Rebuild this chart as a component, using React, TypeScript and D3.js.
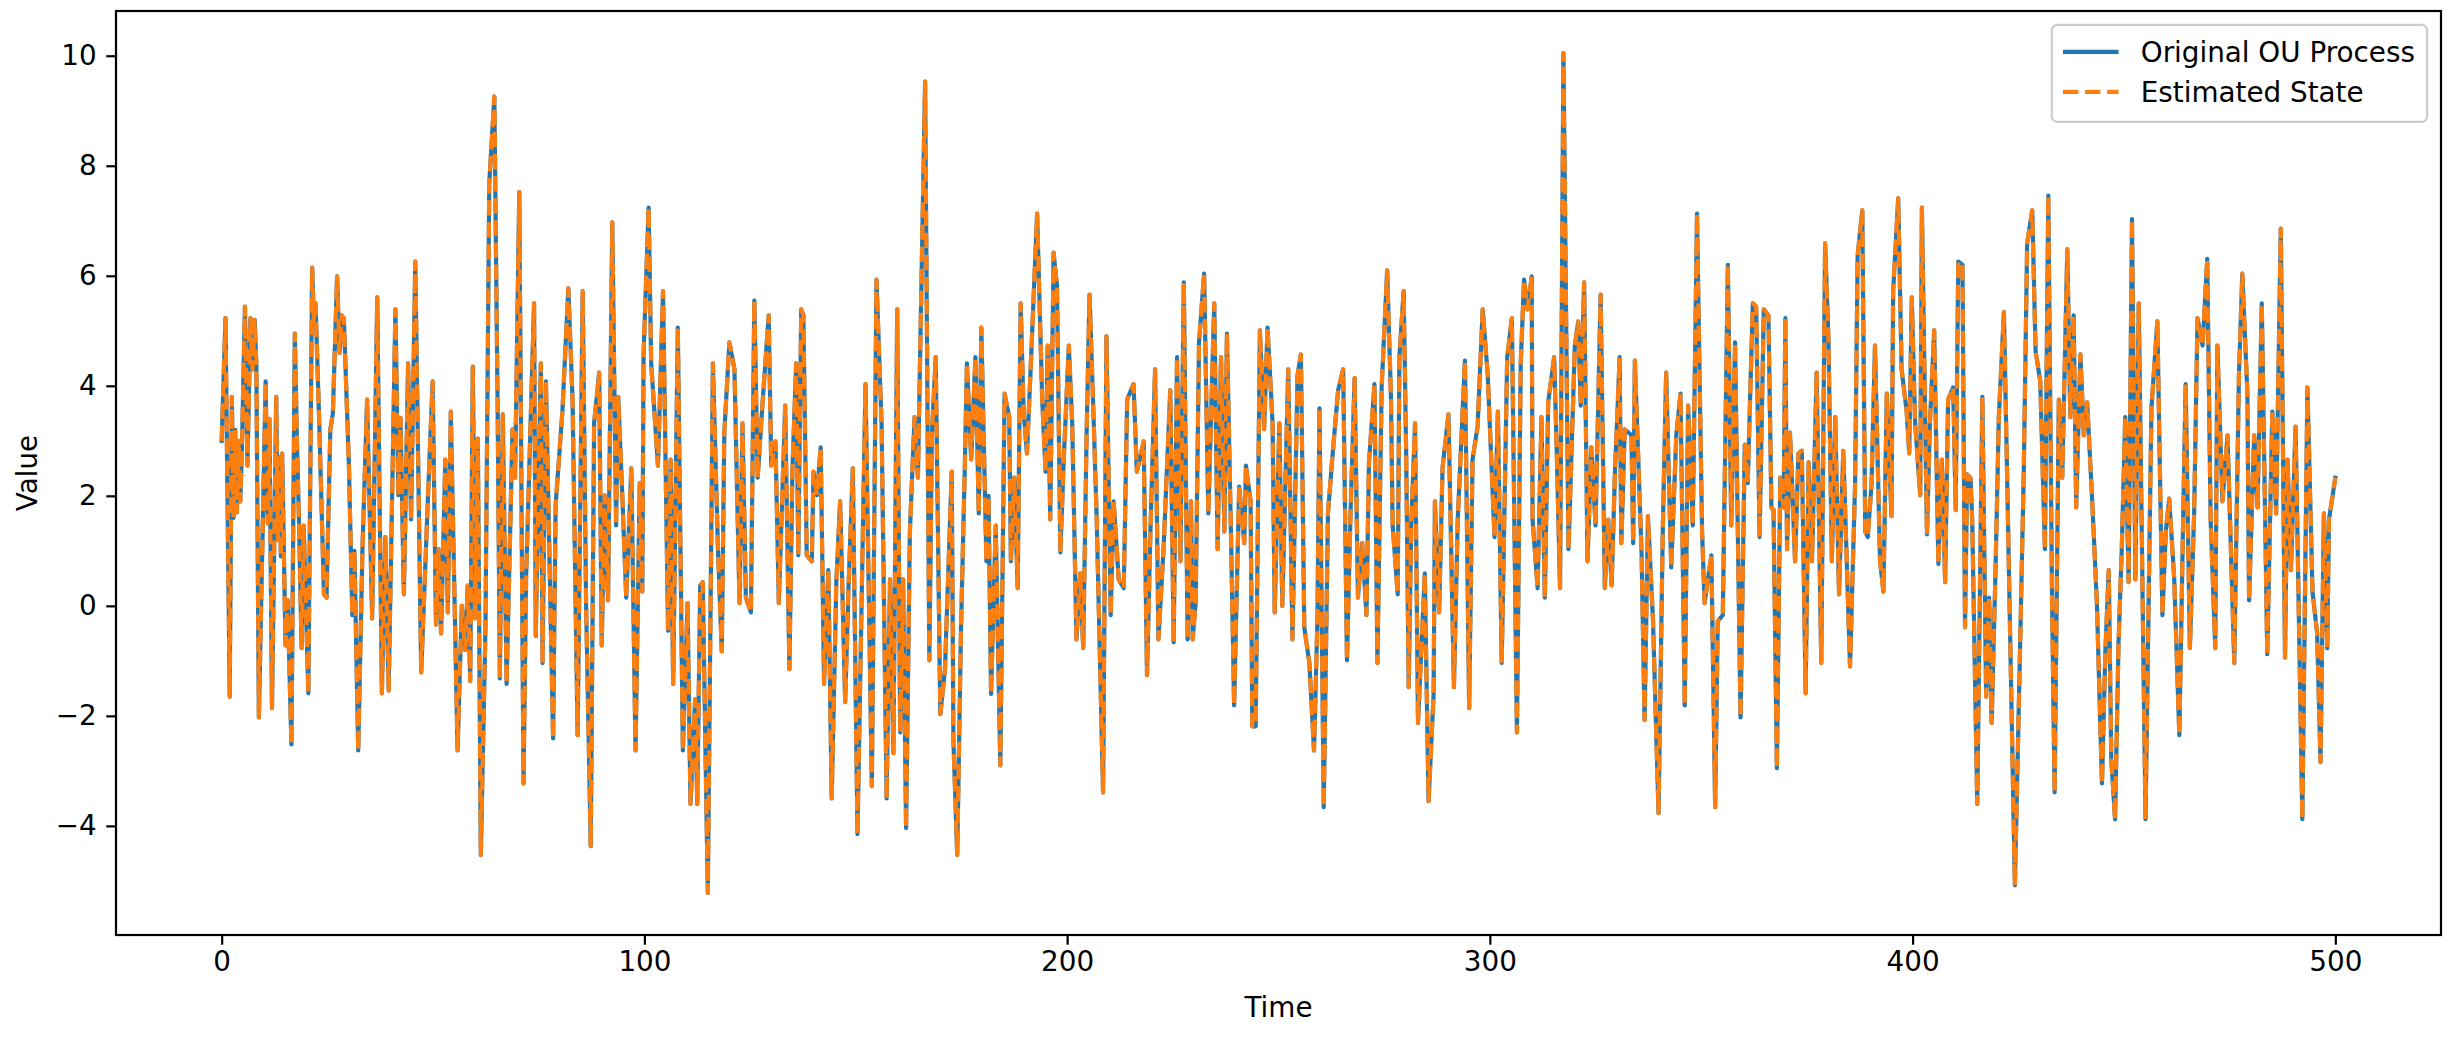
import React, { useEffect, useRef } from "react";
import * as d3 from "d3";

// [time, value] samples of the OU path
const ouPoints: [number, number][] = [
  [0, 3.0], [0.9, 5.23], [1.9, -1.65], [2.4, 3.8], [2.8, 1.6], [3.2, 3.2], [3.6, 1.7], [4.0, 3.0], [4.4, 1.9], [4.8, 2.9],
  [5.5, 5.44], [6.1, 2.55], [6.8, 5.23], [7.3, 4.3], [7.8, 5.2], [8.2, 4.4], [8.8, -2.03], [10.4, 4.08], [10.9, 1.5], [11.3, 3.4],
  [11.9, -1.86], [12.9, 3.8], [13.3, 1.2], [13.7, 2.7], [14.0, 0.9], [14.3, 2.77], [15.1, -0.72], [15.6, 0.1], [16.5, -2.52], [17.3, 4.95],
  [17.8, 3.0], [18.3, 1.5], [18.9, -0.77], [19.4, 1.46], [20.5, -1.59], [21.4, 6.15], [21.8, 5.2], [22.2, 5.5], [23.0, 3.53], [24.2, 0.21],
  [24.8, 0.15], [25.7, 3.2], [26.3, 3.5], [27.3, 5.99], [27.9, 4.6], [28.4, 5.28], [28.9, 5.23], [30.1, 2.55], [30.9, -0.17], [31.4, 1.0],
  [32.3, -2.63], [33.3, 1.03], [34.4, 3.75], [35.6, -0.23], [36.8, 5.61], [37.9, -1.59], [38.7, 1.25], [39.5, -1.54], [41.1, 5.39], [41.8, 2.01],
  [42.3, 3.42], [43.1, 0.21], [44.1, 4.41],
  [44.8, 1.57], [45.8, 6.26], [47.2, -1.21], [48.7, 1.79], [49.9, 4.08], [50.7, -0.34], [51.3, 1.03], [51.9, -0.5], [52.9, 2.66], [53.5, -0.12],
  [54.2, 3.53], [55.8, -2.63], [56.8, 0.0], [57.6, -0.8], [58.2, 0.37], [58.8, -1.37], [59.4, 4.35], [60.0, -0.23], [60.6, 3.04], [61.3, -4.53],
  [62.4, -0.39], [63.3, 7.68], [64.5, 9.26], [65.3, 3.43], [65.8, -1.32], [66.5, 3.48], [67.4, -1.42], [68.8, 3.21], [69.4, 2.33], [70.4, 7.52],
  [71.4, -3.23], [72.0, 0.48], [73.9, 5.5], [74.3, -0.55], [75.5, 4.41], [75.9, -1.04], [76.7, 4.08], [78.4, -2.41], [79.0, 1.84], [80.6, 3.53],
  [82.0, 5.77], [83.0, 3.75], [84.2, -2.35], [85.4, 5.72], [86.2, 0.05], [87.3, -4.37], [88.1, 3.32], [89.3, 4.24], [89.9, -0.72],
  [90.6, 2.01], [91.4, 0.1], [92.4, 6.97], [93.3, 1.46], [93.8, 3.8], [94.6, 2.33], [95.7, 0.15], [96.9, 2.5], [97.9, -2.63], [98.9, 2.23],
  [99.5, 0.26], [99.8, 4.57], [101.0, 7.24], [101.6, 4.41], [103.2, 2.55], [104.4, 5.72], [105.6, -0.45], [106.2, 2.66], [106.8, -1.42], [107.9, 5.06],
  [109.1, -2.63], [110.2, 0.05], [110.9, -3.6], [112.0, -1.7], [112.5, -3.6], [113.2, 0.37], [113.8, 0.43], [115.0, -5.22], [116.2, 4.41], [117.4, 1.03],
  [118.3, -0.83], [118.9, 3.15], [120.1, 4.79], [121.3, 4.3], [122.5, 0.05], [123.2, 3.32], [124.0, 0.15], [125.2, -0.12], [126.0, 5.55], [126.8, 2.33],
  [128.0, 3.75], [129.4, 5.28], [130.0, 2.55], [131.0, 2.99], [131.8, 0.05], [133.3, 3.64], [134.3, -1.15], [135.0, 2.44], [135.9, 4.41],
  [136.4, 0.92], [137.1, 5.39], [137.6, 5.28], [138.4, 0.92], [139.6, 0.81], [140.0, 2.44], [140.8, 2.01], [141.7, 2.88], [142.5, -1.42], [143.5, 0.65],
  [144.3, -3.5], [145.4, 0.43], [146.3, 1.9], [147.5, -1.75], [148.3, 0.37], [149.3, 2.5], [150.4, -4.15], [151.4, 0.15], [152.3, 4.03], [153.8, -3.28],
  [154.9, 5.93], [156.1, 3.32], [157.3, -3.5], [158.1, 0.48], [158.9, -2.68], [159.8, 5.39], [160.5, -2.3], [161.2, 0.48], [161.9, -4.04], [162.8, 1.35],
  [163.9, 3.43], [164.7, 2.33], [166.4, 9.53], [167.4, -0.99], [168.0, 3.1], [168.9, 4.52], [170.0, -1.97], [171.1, -1.15], [172.7, 2.44], [173.1, -2.46],
  [174.0, -4.53], [174.9, -0.39], [175.8, 2.55], [176.3, 4.41], [177.3, 2.66], [178.3, 4.52], [179.1, 1.68], [179.7, 5.06], [180.9, 0.81], [181.4, 2.0],
  [182.0, -1.6],
  [183.1, 1.46], [184.2, -2.9], [185.2, 3.86], [186.3, 3.43], [186.7, 0.81], [187.5, 2.33], [188.3, 0.32], [189.0, 5.5], [189.7, 3.53], [190.5, 2.77],
  [191.3, 4.19], [192.9, 7.13], [194.1, 3.75], [194.9, 2.44], [195.4, 4.73], [196.0, 1.57], [196.8, 6.42], [197.6, 5.82], [198.4, 0.97], [199.2, 2.66],
  [200.4, 4.73], [201.2, 3.32], [202.2, -0.61], [203.1, 0.59], [203.8, -0.77], [204.6, 3.1], [205.3, 5.66], [206.3, 3.32], [207.0, 1.57], [208.5, -3.39],
  [209.3, 4.9], [210.3, -0.17], [211.0, 1.9], [212.2, 0.48], [213.4, 0.32], [214.2, 3.75], [215.7, 4.03], [216.5, 2.44], [218.1, 2.99], [218.9, -1.26],
  [219.7, 1.35], [220.8, 4.3], [221.6, -0.61], [222.8, 1.03], [224.4, 3.92], [225.2, -0.66], [226.0, 4.52], [226.8, 0.81], [227.6, 5.88],
  [228.5, -0.61], [229.3, 1.9], [229.7, -0.61], [230.4, 0.05], [231.2, 4.79], [232.4, 6.04], [233.4, 1.68], [234.8, 5.5], [235.6, 1.03], [236.4, 4.52],
  [237.2, 1.35], [237.8, 4.95], [238.8, 1.14], [239.5, -1.81], [240.7, 2.17], [241.9, 1.14], [242.3, 2.55], [243.4, 1.9], [243.8, -2.19], [244.6, -2.19],
  [245.6, 5.01], [246.6, 3.21], [247.4, 5.06], [248.6, 3.32], [249.1, -0.12], [250.2, 3.32], [250.9, 0.0], [252.3, 4.3], [253.3, -0.61], [254.5, 4.19],
  [255.3, 4.57], [256.1, -0.39], [257.3, -1.04], [258.4, -2.63], [259.2, -0.28], [259.7, 3.59], [260.7, -3.66], [261.7, 1.68], [262.7, 2.66], [264.1, 3.92],
  [265.3, 4.3], [266.2, -0.99], [267.0, 1.57], [268.0, 4.14], [268.8, 0.15], [269.8, 1.14], [270.8, -0.17], [271.4, 2.61], [272.7, 4.03], [273.4, -1.04],
  [274.4, 3.97], [275.7, 6.1], [276.6, 3.8], [277.0, 1.46], [278.2, 0.21], [278.6, 4.52], [279.6, 5.72], [280.2, 2.77], [280.8, -1.48], [281.4, 1.46],
  [282.3, 3.32], [283.0, -2.13], [284.6, 0.59], [285.5, -3.55], [286.7, -1.59], [287.0, 1.9], [288.0, -0.12], [288.8, 2.5], [290.2, 3.48], [291.5, -1.48],
  [292.4, 1.57], [294.1, 4.46], [295.1, -1.86], [295.9, 2.66], [297.1, 3.26], [298.3, 5.39], [299.5, 4.19], [301.1, 1.25], [301.9, 3.53], [302.8, -1.04],
  [304.1, 4.52], [305.2, 5.23], [306.4, -2.3], [307.3, 4.41], [308.1, 5.93], [308.9, 5.39], [309.9, 5.99], [310.1, 1.57], [311.3, 0.32], [312.2, 3.43],
  [313.0, 0.15], [313.8, 3.7], [315.2, 4.52], [315.8, 2.88], [316.6, 0.32], [317.4, 10.05], [318.6, 1.03],
  [320.1, 4.73], [320.9, 5.17], [321.5, 3.64], [322.3, 5.88], [323.1, 0.81], [324.0, 2.88], [325.0, 1.46], [326.2, 5.66], [327.2, 0.32], [328.0, 1.57],
  [328.8, 0.37], [329.6, 2.44], [330.7, 4.52], [331.1, 1.14], [331.9, 3.21], [333.5, 3.1], [333.9, 1.14], [334.3, 4.46], [335.9, 0.92], [336.6, -2.08],
  [337.4, 1.63], [338.6, -0.28], [339.9, -3.77], [340.9, 1.35], [341.7, 4.24], [342.9, 0.7], [344.1, 3.1], [345.1, 3.86], [346.1, -1.81], [346.9, 3.64],
  [348.0, 1.46], [349.0, 7.13], [350.2, 1.35], [350.8, 0.05], [352.4, 0.92], [353.3, -3.66], [353.9, -0.28], [355.1, -0.17], [356.3, 6.2], [357.1, 1.46],
  [358.0, 4.79], [359.3, -2.03], [360.3, 2.93], [361.0, 2.23], [362.2, 5.5], [363.0, 5.44], [363.8, 1.25], [364.8, 5.39],
  [365.9, 5.28], [366.6, 1.79], [367.1, 1.74], [367.9, -2.95], [368.7, 2.33], [369.5, 1.79], [369.9, 5.23], [370.3, 1.03], [371.0, 3.15], [372.2, 0.81],
  [373.0, 2.77], [373.8, 2.82], [374.7, -1.59], [375.4, 2.61], [376.2, 0.81], [377.3, 4.24], [378.4, -1.04], [379.3, 6.59], [380.1, 4.84], [380.9, 0.81],
  [381.7, 3.43], [382.6, 0.21], [383.6, 2.82], [385.2, -1.1], [386.4, 2.23], [387.0, 6.37], [388.1, 7.19], [388.8, 1.35], [389.4, 1.25], [390.3, 2.23],
  [391.1, 4.73], [392.3, 0.81], [393.1, 0.26], [393.9, 3.86], [395.0, 1.63], [395.4, 5.72], [396.6, 7.41], [397.4, 4.3], [398.6, 3.53], [399.2, 2.77],
  [399.8, 5.61], [400.6, 3.32], [401.8, 2.01], [402.2, 7.24], [403.4, 1.3], [404.1, 3.32], [405.1, 5.01], [406.1, 0.76], [406.9, 2.66], [407.7, 0.43],
  [408.4, 3.75], [409.6, 3.97], [410.2, 1.74], [410.8, 6.26],
  [411.8, 6.2], [412.4, -0.39], [412.9, 2.39], [413.7, 2.33], [414.1, 1.57], [415.3, -3.6], [416.5, 3.8], [417.4, -1.65], [418.1, 0.15], [418.7, -2.13],
  [419.6, 0.59], [420.4, 3.43], [421.6, 5.34], [422.4, 2.23], [423.2, -1.04], [424.2, -5.08], [425.5, -0.5], [426.3, 2.44], [427.1, 6.59], [428.3, 7.19],
  [429.1, 4.63], [430.2, 4.08], [431.3, 1.03], [432.1, 7.46], [433.0, 0.05], [433.6, -3.39], [434.6, 3.75], [435.4, 2.33], [436.6, 6.48], [437.3, 3.43],
  [438.1, 5.28], [438.7, 1.79], [439.7, 4.57], [440.5, 3.1], [441.3, 3.7], [442.5, 1.9], [443.6, 0.05], [444.8, -3.23], [445.6, -0.83], [446.4, 0.65],
  [447.0, -2.79], [447.9, -3.88], [448.7, -0.72], [449.5, 1.08], [450.3, 3.43], [451.1, 0.43], [451.9, 7.03], [452.7, 0.48], [453.5, 5.5], [455.1, -3.88],
  [456.5, 3.59],
  [457.9, 5.17], [459.1, -0.17], [459.9, 1.35], [460.7, 1.95], [461.9, 0.48], [463.1, -2.35], [463.9, 1.14], [464.6, 4.03], [465.6, -0.77], [466.6, 1.68],
  [467.4, 5.23], [468.6, 4.73], [469.7, 6.31], [470.5, 1.57], [471.6, -0.77], [472.1, 4.73], [473.3, 1.9], [474.5, 3.1], [476.1, -1.04], [477.2, 4.19],
  [478.0, 6.04], [479.2, 3.86], [479.6, 0.1], [480.8, 3.1], [481.6, 1.79], [482.6, 5.5], [483.9, -0.88], [485.1, 3.53], [486.0, 1.68], [487.1, 6.86],
  [488.1, -0.94], [488.7, 2.66], [489.5, 0.65], [490.6, 3.26], [492.2, -3.88], [493.4, 3.97], [494.6, 0.26], [495.7, -0.5], [496.5, -2.84], [497.3, 1.68],
  [498.1, -0.77], [498.5, 1.57], [500, 2.33],
];

// the estimate sits exactly on top of the original in the picture
const estimatedPoints: [number, number][] = ouPoints;

const xTicks = [0, 100, 200, 300, 400, 500];
const yTicks = [-4, -2, 0, 2, 4, 6, 8, 10];
const seriesNames = ["Original OU Process", "Estimated State"];
const seriesColors = ["#1f77b4", "#ff7f0e"];

const W = 2456;
const H = 1038;
const margin = { top: 11, right: 15, bottom: 103, left: 116 };
const FONT = "DejaVu Sans, Verdana, sans-serif";
const fs = 27.8; // 10pt at 200 dpi

export default function App() {
  const ref = useRef<SVGSVGElement>(null);

  useEffect(() => {
    const svg = d3.select(ref.current);
    svg.selectAll("*").remove();

    const width = W - margin.left - margin.right;
    const height = H - margin.top - margin.bottom;

    const tExt = d3.extent(ouPoints, d => d[0]) as [number, number];
    const vExt = d3.extent(ouPoints, d => d[1]) as [number, number];
    const tPad = (tExt[1] - tExt[0]) * 0.05;
    const vPad = (vExt[1] - vExt[0]) * 0.05;

    const xScale = d3.scaleLinear()
      .domain([tExt[0] - tPad, tExt[1] + tPad])
      .range([0, width]);
    const yScale = d3.scaleLinear()
      .domain([vExt[0] - vPad, vExt[1] + vPad])
      .range([height, 0]);

    const g = svg.append("g").attr("transform", `translate(${margin.left},${margin.top})`);

    g.append("clipPath").attr("id", "plotClip")
      .append("rect").attr("width", width).attr("height", height);

    const line = d3.line<[number, number]>()
      .x(d => xScale(d[0]))
      .y(d => yScale(d[1]));

    const plot = g.append("g").attr("clip-path", "url(#plotClip)");

    plot.append("path")
      .datum(ouPoints)
      .attr("d", line)
      .attr("fill", "none")
      .attr("stroke", seriesColors[0])
      .attr("stroke-width", 4.17)
      .attr("stroke-linejoin", "round")
      .attr("stroke-linecap", "square");

    plot.append("path")
      .datum(estimatedPoints)
      .attr("d", line)
      .attr("fill", "none")
      .attr("stroke", seriesColors[1])
      .attr("stroke-width", 4.17)
      .attr("stroke-linejoin", "round")
      .attr("stroke-dasharray", "15.4,6.7");

    // axes
    const xAxis = d3.axisBottom(xScale).tickValues(xTicks).tickSize(9.7).tickPadding(7).tickSizeOuter(0);
    const yAxis = d3.axisLeft(yScale).tickValues(yTicks).tickSize(9.7).tickPadding(9.7).tickSizeOuter(0);

    const gx = g.append("g").attr("transform", `translate(0,${height})`).call(xAxis);
    const gy = g.append("g").call(yAxis);

    [gx, gy].forEach(ax => {
      ax.select(".domain").remove();
      ax.attr("font-size", fs).attr("font-family", FONT);
      ax.selectAll(".tick line").attr("stroke", "#000").attr("stroke-width", 2.2);
      ax.selectAll(".tick text").attr("fill", "#000");
    });

    // frame
    g.append("rect")
      .attr("width", width).attr("height", height)
      .attr("fill", "none").attr("stroke", "#000").attr("stroke-width", 2.2);

    // axis labels
    g.append("text")
      .attr("x", width / 2).attr("y", height + 82)
      .attr("text-anchor", "middle")
      .attr("font-size", fs).attr("font-family", FONT)
      .text("Time");

    g.append("text")
      .attr("transform", `translate(${-79},${height / 2}) rotate(-90)`)
      .attr("text-anchor", "middle")
      .attr("font-size", fs).attr("font-family", FONT)
      .text("Value");

    // legend
    const legW = 13.5 * fs;
    const legH = 97;
    const legX = width - 0.5 * fs - legW;
    const legY = 0.5 * fs;
    const leg = g.append("g").attr("transform", `translate(${legX},${legY})`);
    leg.append("rect")
      .attr("width", legW).attr("height", legH)
      .attr("rx", 5.5).attr("ry", 5.5)
      .attr("fill", "#fff").attr("fill-opacity", 0.8)
      .attr("stroke", "#cccccc").attr("stroke-width", 2.2);

    seriesNames.forEach((name, i) => {
      const cy = 27 + i * 40;
      const x0 = 0.4 * fs;
      leg.append("line")
        .attr("x1", x0).attr("x2", x0 + 2 * fs)
        .attr("y1", cy).attr("y2", cy)
        .attr("stroke", seriesColors[i])
        .attr("stroke-width", 4.17)
        .attr("stroke-dasharray", i === 1 ? "15.4,6.7" : null);
      leg.append("text")
        .attr("x", x0 + 2.8 * fs).attr("y", cy)
        .attr("dy", "0.36em")
        .attr("font-size", fs).attr("font-family", FONT)
        .attr("fill", "#000")
        .text(name);
    });
  }, []);

  return (
    <div style={{ position: "absolute", left: 0, top: 0, width: W, height: H, background: "#fff" }}>
      <svg ref={ref} width={W} height={H} style={{ display: "block" }} />
    </div>
  );
}
